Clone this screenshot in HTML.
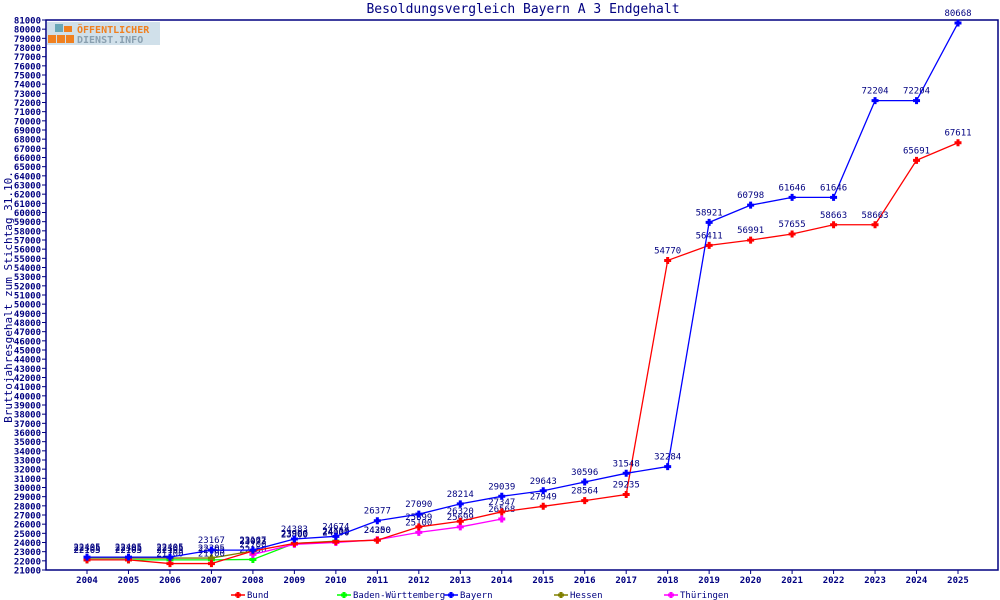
<!DOCTYPE html>
<html><head><meta charset="utf-8"><style>
body{margin:0;background:#fff;width:1000px;height:600px;overflow:hidden}
svg{display:block}
text{font-family:"DejaVu Sans Mono","Liberation Mono",monospace}
</style></head><body>
<svg id="c" width="1000" height="600">
<text x="523" y="13" text-anchor="middle" font-size="13" fill="#000080">Besoldungsvergleich Bayern A 3 Endgehalt</text>
<text transform="translate(12,297) rotate(-90)" text-anchor="middle" font-size="11" fill="#000080">Bruttojahresgehalt zum Stichtag 31.10.</text>
<g>
<rect x="47" y="22" width="113" height="23" fill="#d0e0ea"/>
<rect x="55" y="24" width="8" height="8" fill="#6aa8b8"/><rect x="64" y="26" width="8" height="6" fill="#f08020"/>
<rect x="48" y="35" width="8" height="8" fill="#f08020"/><rect x="57" y="35" width="8" height="8" fill="#f08020"/><rect x="66" y="35" width="8" height="8" fill="#f08020"/>
<text x="77" y="33" font-size="10" font-weight="bold" fill="#f08020" font-family="Liberation Sans,sans-serif">ÖFFENTLICHER</text>
<text x="77" y="43" font-size="10" font-weight="bold" fill="#8aa0b0" font-family="Liberation Sans,sans-serif">DIENST.INFO</text>
</g>
</svg>
<script>
const years=[2004,2005,2006,2007,2008,2009,2010,2011,2012,2013,2014,2015,2016,2017,2018,2019,2020,2021,2022,2023,2024,2025];
const bund=[22105,22105,21700,21700,23073,23900,24100,24250,25699,26320,27347,27949,28564,29235,54770,56411,56991,57655,58663,58663,65691,67611];
const bw=[22105,22105,22105,22105,22150,23900,24150];
const bayern=[22405,22405,22405,23167,23167,24383,24674,26377,27090,28214,29039,29643,30596,31548,32284,58921,60798,61646,61646,72204,72204,80668];
const hessen=[22305,22305,22305,22305,23073];
const thueringen=[null,null,null,null,22700,23800,24000,24300,25100,25699,26568];
const yTicks=[];for(let v=21000;v<=81000;v+=1000)yTicks.push(v);
const seriesNames=["Bund","Baden-Württemberg","Bayern","Hessen","Thüringen"];
const svg=document.getElementById('c');const NS="http://www.w3.org/2000/svg";
const L=46,R=998,T=20,B=570,yMin=21000,yMax=81000;
const y=v=>B-(v-yMin)/(yMax-yMin)*(B-T);
const x=i=>87+i*(958-87)/(years.length-1);
function el(t,a,p){const e=document.createElementNS(NS,t);for(const k in a)e.setAttribute(k,a[k]);(p||svg).appendChild(e);return e;}
const ax=el('g',{});


el('rect',{x:L,y:T,width:R-L,height:B-T,fill:'none',stroke:'#000080','stroke-width':1.5},ax);
yTicks.forEach(v=>{
 el('line',{x1:L-4,x2:L,y1:y(v),y2:y(v),stroke:'#000080'},ax);
 const t=el('text',{x:L-5,y:y(v)+3.5,'text-anchor':'end','font-size':9,'font-weight':'bold',fill:'#000080'},ax);
 
 
 t.textContent=v;
});
years.forEach((yr,i)=>{
 el('line',{x1:x(i),x2:x(i),y1:B,y2:B+4,stroke:'#000080'},ax);
 const t=el('text',{x:x(i),y:B+13,'text-anchor':'middle','font-size':9,'font-weight':'bold',fill:'#000080'},ax);
 
 
 t.textContent=yr;
});
function draw(data,color,name){
 const g=el('g',{});
 
 
 let d='';data.forEach((v,i)=>{if(v==null)return;d+=(d?'L':'M')+x(i)+' '+y(v);});
 el('path',{d:d,fill:'none',stroke:color,'stroke-width':1.3},g);
 data.forEach((v,i)=>{if(v==null)return;
  const p=el('path',{d:`M${x(i)-3.5} ${y(v)}h7M${x(i)} ${y(v)-3.5}v7`,stroke:color,'stroke-width':3},g);
  
  
  const t=el('text',{x:x(i),y:y(v)-7,'text-anchor':'middle','font-size':9,fill:'#000080'},g);
  
  
  t.textContent=v;
 });
}
const colors=['#ff0000','#00ff00','#0000ff','#808000','#ff00ff'];
draw(bw,colors[1],'bw');draw(hessen,colors[3],'hessen');draw(thueringen,colors[4],'thueringen');draw(bund,colors[0],'bund');draw(bayern,colors[2],'bayern');
const lx=[238,344,451,561,671];
seriesNames.forEach((n,i)=>{
 const g=el('g',{});
 
 
 el('line',{x1:lx[i]-7,x2:lx[i]+7,y1:595,y2:595,stroke:colors[i],'stroke-width':1.5},g);
 el('path',{d:`M${lx[i]-3} 595h6M${lx[i]} 592v6`,stroke:colors[i],'stroke-width':3},g);
 const t=el('text',{x:lx[i]+9,y:598,'font-size':9,fill:'#000080'},g);t.textContent=n;
});
</script>
</body></html>
